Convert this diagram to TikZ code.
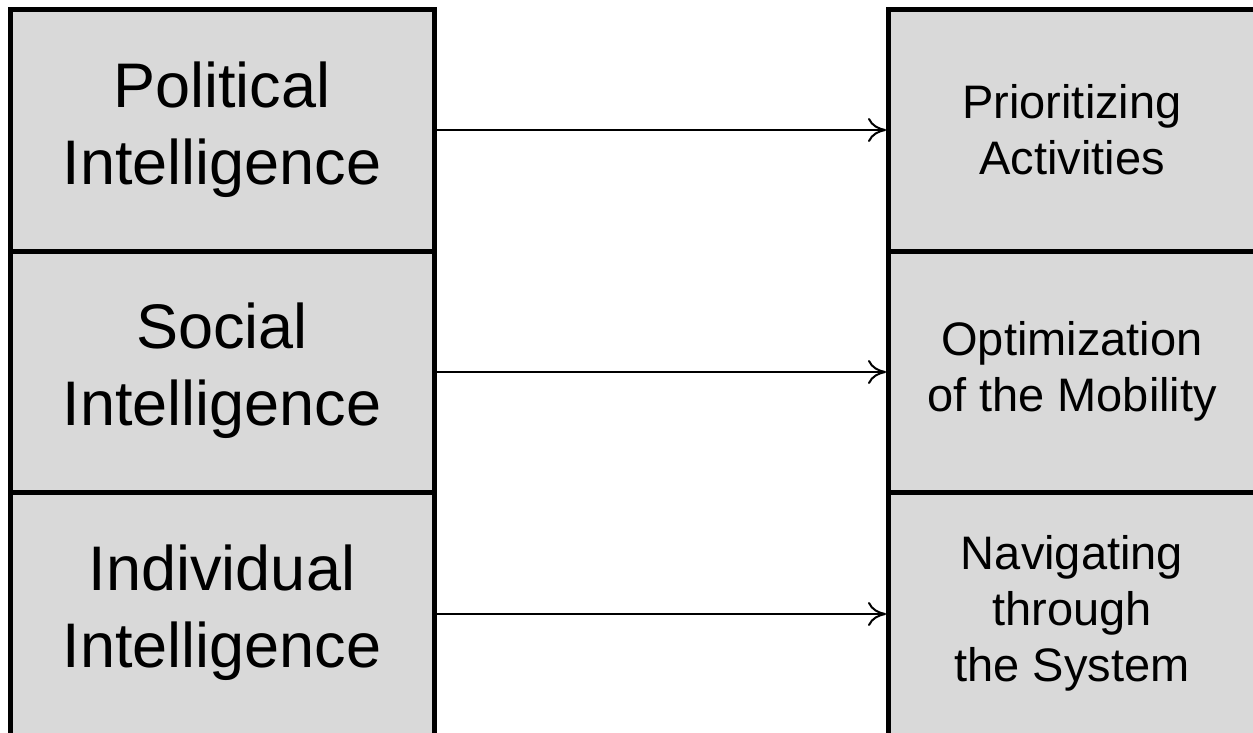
\documentclass[tikz,border=0pt]{standalone}
\usepackage{fontspec}
\setmainfont{Liberation Sans}
\usetikzlibrary{arrows.meta}
\definecolor{boxfill}{HTML}{D9D9D9}
\tikzset{
  x=1pt, y=-1pt,
  cell/.style={draw=black, line width=5pt, fill=boxfill},
  bigtxt/.style={align=center, font=\fontsize{63}{77}\selectfont, inner sep=0pt},
  smalltxt/.style={align=center, font=\fontsize{47}{56}\selectfont, inner sep=0pt},
  link/.style={line width=2pt, -{To[length=18pt, width=24pt, line width=2pt]}}
}
\begin{document}
\begin{tikzpicture}
\useasboundingbox (0,0) rectangle (1253,732);
% left column
\draw[cell] (10.5,9.5) rectangle (434.5,251);
\draw[cell] (10.5,251) rectangle (434.5,492.5);
\draw[cell] (10.5,492.5) rectangle (434.5,736);
% right column
\draw[cell] (888,9.5) rectangle (1262,251);
\draw[cell] (888,251) rectangle (1262,492.5);
\draw[cell] (888,492.5) rectangle (1262,736);
% texts
\node[bigtxt] (p) at (222,130) {Political\\Intelligence};
\node[bigtxt] (s) at (222,371) {Social\\Intelligence};
\node[bigtxt] (i) at (222,613) {Individual\\Intelligence};
\node[smalltxt] (pa) at (1072,130) {Prioritizing\\Activities};
\node[smalltxt] (om) at (1072,371) {Optimization\\of the Mobility};
\node[smalltxt] (nt) at (1072,613) {Navigating\\through\\the System};
% anchors for arrows
\coordinate (a1) at (434.5,130);
\coordinate (b1) at (886,130);
\coordinate (a2) at (434.5,372);
\coordinate (b2) at (886,372);
\coordinate (a3) at (434.5,614);
\coordinate (b3) at (886,614);
\draw[link] (a1) -- (b1);
\draw[link] (a2) -- (b2);
\draw[link] (a3) -- (b3);
\end{tikzpicture}
\end{document}
